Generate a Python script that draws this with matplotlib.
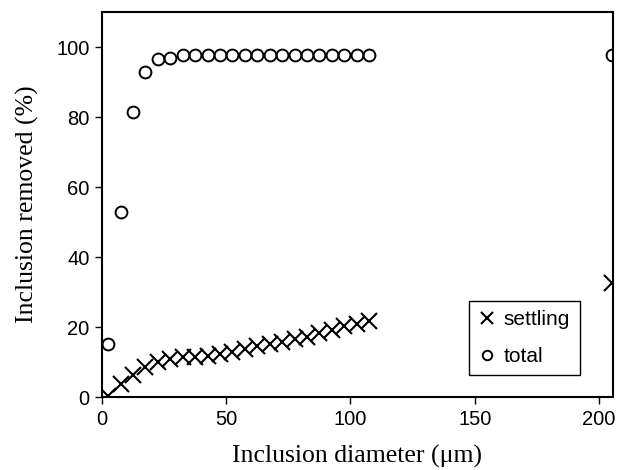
import matplotlib
matplotlib.use("Agg")
import matplotlib.pyplot as plt
import numpy as np

# inclusion diameter (um)
diam = [2.5, 7.5, 12.5, 17.5, 22.5, 27.5, 32.5, 37.5, 42.5, 47.5, 52.5,
        57.5, 62.5, 67.5, 72.5, 77.5, 82.5, 87.5, 92.5, 97.5, 102.5, 107.5, 205]
settling = [0.2, 3.7, 6.2, 8.6, 10.1, 11.0, 11.4, 11.6, 11.9, 12.3, 12.9,
            13.8, 14.6, 15.3, 15.9, 16.5, 17.3, 18.2, 19.3, 20.3, 21.0, 21.8, 32.6]
total = [15.3, 52.8, 81.6, 92.9, 96.5, 97.0, 97.8, 97.8, 97.8, 97.8, 97.8,
         97.8, 97.8, 97.8, 97.8, 97.8, 97.8, 97.8, 97.8, 97.8, 97.8, 97.8, 97.8]

fig = plt.figure(figsize=(6.33, 4.70), dpi=100)
ax = fig.add_axes([0.161, 0.155, 0.807, 0.819])

ax.plot(diam, settling, linestyle="none", marker="x", ms=11.5, mew=1.5,
        color="black", label="settling")
ax.plot(diam, total, linestyle="none", marker="o", ms=8.5, mew=1.4,
        mfc="none", mec="black", label="total")

ax.set_xlim(0, 205.5)
ax.set_ylim(0, 110)
ax.set_xticks([0, 50, 100, 150, 200])
ax.set_yticks([0, 20, 40, 60, 80, 100])
ax.tick_params(direction="out", length=5, width=1, labelsize=14.5, pad=4)
for lab in ax.get_xticklabels() + ax.get_yticklabels():
    lab.set_fontfamily("Liberation Sans")
for sp in ax.spines.values():
    sp.set_linewidth(1.5)

ax.set_xlabel("Inclusion diameter (\u03bcm)", fontfamily="Liberation Serif",
              fontsize=18.5, labelpad=12)
ax.set_ylabel("Inclusion removed (%)", fontfamily="Liberation Serif",
              fontsize=18.5, labelpad=12)

leg = ax.legend(loc="lower right", bbox_to_anchor=(0.935, 0.057),
                borderaxespad=0,
                prop={"family": "Liberation Sans", "size": 15},
                markerscale=0.8, handlelength=0.8, handletextpad=0.4,
                fancybox=False, framealpha=1, edgecolor="black",
                borderpad=0.45, labelspacing=0.85)
leg.get_frame().set_linewidth(1.0)

fig.savefig("out.png", dpi=100)
